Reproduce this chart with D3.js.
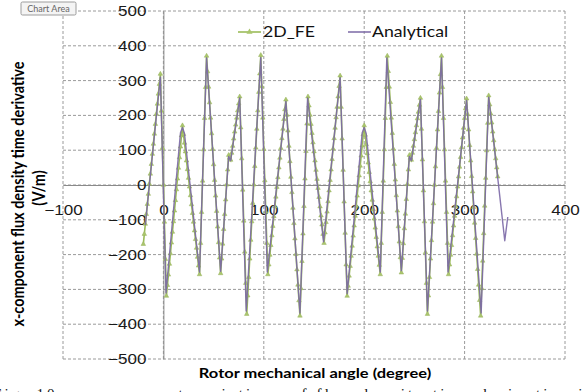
<!DOCTYPE html>
<html>
<head>
<meta charset="utf-8">
<style>
  body { margin: 0; background: #fff; overflow: hidden; }
  svg { display: block; font-family: Lato, "Open Sans", sans-serif; }
  .grid line { stroke: #9a9a9a; stroke-width: 1; stroke-dasharray: 3,2; }
  .axis path { stroke: #8a8a8a; }
  .axis text { fill: #1a1a1a; font-size: 14px; }
</style>
<title>x-component flux density time derivative</title>
</head>
<body>
<script src="https://cdn.jsdelivr.net/npm/d3@7"></script>
<script>

// ---- data ----
var xTicks = [-100, 0, 100, 200, 300, 400];
var yTicks = [-500, -400, -300, -200, -100, 0, 100, 200, 300, 400, 500];

// 2D_FE, one sample per degree starting at -20 deg
var feStart = -20;
var feValues = [
  -170, -141, -112, -84, -55, -26, 3, 32, 60, 89,
  118, 147, 175, 204, 233, 262, 290, 319, 213, 106,
  0, -106, -213, -319, -288, -258, -227, -197, -166, -135,
  -105, -74, -44, -13, 18, 49, 79, 110, 142, 171,
  146, 121, 96, 70, 45, 20, -5, -30, -56, -81,
  -106, -131, -156, -181, -207, -232, -257, -167, -78, 12,
  102, 192, 281, 371, 326, 282, 237, 193, 148, 103,
  59, 14, -31, -75, -120, -165, -209, -254, -212, -169,
  -127, -84, -42, 1, 44, 86, 78, 72, 92, 112,
  133, 153, 173, 193, 214, 234, 254, 165, 76, -14,
  -103, -192, -282, -371, -318, -265, -212, -158, -105, -52,
  1, 54, 107, 161, 214, 267, 320, 373, 283, 193,
  103, 13, -77, -167, -257, -229, -201, -173, -145, -118,
  -90, -62, -34, -6, 22, 50, 78, 106, 134, 161,
  189, 217, 245, 201, 156, 112, 68, 23, -21, -66,
  -110, -154, -199, -243, -287, -332, -376, -297, -219, -140,
  -61, 18, 97, 176, 254, 228, 201, 175, 149, 122,
  96, 70, 43, 17, -9, -35, -62, -88, -114, -141,
  -167, -137, -107, -77, -47, -16, 14, 44, 74, 104,
  134, 164, 194, 224, 254, 284, 314, 224, 133, 43,
  -48, -138, -229, -319, -290, -261, -233, -204, -175, -146,
  -117, -89, -60, -31, -2, 27, 55, 84, 113, 145,
  171, 144, 117, 91, 64, 37, 10, -16, -43, -70,
  -97, -123, -150, -177, -204, -230, -257, -167, -78, 12,
  102, 192, 281, 371, 327, 282, 238, 193, 149, 104,
  60, 15, -30, -74, -119, -163, -208, -252, -210, -168,
  -125, -83, -41, 2, 44, 86, 78, 72, 92, 112,
  131, 151, 171, 191, 210, 230, 250, 161, 73, -16,
  -105, -194, -282, -371, -318, -265, -212, -159, -106, -53,
  0, 53, 106, 159, 212, 265, 318, 371, 281, 192,
  102, 12, -78, -167, -257, -229, -201, -173, -145, -117,
  -89, -61, -33, -5, 24, 52, 80, 108, 136, 164,
  192, 220, 248, 203, 159, 114, 70, 25, -19, -64,
  -109, -153, -198, -242, -287, -331, -376, -297, -218, -139,
  -60, 20, 99, 178, 257, 231, 205, 179, 153, 128,
  102, 76, 50, 24
];

// Analytical, corner points of the curve
var anaAngles = [-18, -3, 2.6, 17, 19, 21, 36, 43, 57, 65, 67, 76, 82.5, 97, 103.5, 122, 136, 143.6,
                 159.5, 176, 183, 198, 200, 202, 216, 222.5, 237, 245, 247, 256, 263, 277, 283.5,
                 302, 316.5, 324, 340, 343];
var anaValues = [-115, 310, -310, 150, 165, 148, -250, 365, -248, 82, 70, 250, -362, 366, -250, 240, -368, 250,
                 -163, 308, -312, 150, 165, 148, -250, 365, -246, 82, 70, 246, -362, 365, -250,
                 243, -368, 252, -160, -92];

var feData = feValues.map((v, i) => ({angle: feStart + i, value: v}));
var anaData = anaAngles.map((a, i) => ({angle: a, value: anaValues[i]}));

// ---- layout ----
var width = 582, height = 392;
var plot = {left: 63, right: 565, top: 11, bottom: 359};
var stretch = 1.22;   // the picture is wider than it is tall, text included
var feColor = "#9bbb59", anaColor = "#7b68a6";

var x = d3.scaleLinear().domain([-100, 400]).range([plot.left, plot.right]);
var y = d3.scaleLinear().domain([-500, 500]).range([plot.bottom, plot.top]);

var svg = d3.select("body").append("svg")
    .attr("width", width)
    .attr("height", height);

// dashed grid, border included
var grid = svg.append("g").attr("class", "grid");
grid.selectAll(".h").data(yTicks).enter().append("line")
    .attr("x1", plot.left).attr("x2", plot.right)
    .attr("y1", d => y(d)).attr("y2", d => y(d));
grid.selectAll(".v").data(xTicks).enter().append("line")
    .attr("y1", plot.top).attr("y2", plot.bottom)
    .attr("x1", d => x(d)).attr("x2", d => x(d));

// axes cross at zero
var xAxis = svg.append("g")
    .attr("class", "axis")
    .attr("transform", `translate(0,${y(0)})`)
    .call(d3.axisBottom(x).tickValues(xTicks).tickSize(0).tickFormat(d3.format("d")));
xAxis.selectAll("text")
    .attr("y", null)
    .attr("dy", "0.71em")
    .attr("transform", `translate(0,20) scale(${stretch},1)`);

var yAxis = svg.append("g")
    .attr("class", "axis")
    .attr("transform", `translate(${x(0)},0)`)
    .call(d3.axisLeft(y).tickValues(yTicks).tickSize(0).tickFormat(d3.format("d")));
yAxis.selectAll("text")
    .attr("x", null)
    .attr("transform", `translate(-17,0) scale(${stretch},1)`);

// series
var line = d3.line().x(d => x(d.angle)).y(d => y(d.value));

svg.append("path")
    .datum(feData)
    .attr("d", line)
    .attr("fill", "none")
    .attr("stroke", feColor)
    .attr("stroke-width", 1.6);

var tri = d3.symbol().type(d3.symbolTriangle).size(9);
svg.append("g").selectAll("path")
    .data(feData)
    .enter().append("path")
    .attr("d", tri)
    .attr("transform", d => `translate(${x(d.angle)},${y(d.value)})`)
    .attr("fill", "#aac66c")
    .attr("stroke", "#98b25e")
    .attr("stroke-width", 0.5);

svg.append("path")
    .datum(anaData)
    .attr("d", line)
    .attr("fill", "none")
    .attr("stroke", anaColor)
    .attr("stroke-width", 1.4)
    .attr("stroke-opacity", 0.9)
    .attr("stroke-linejoin", "round");

// legend
var legend = svg.append("g").attr("font-size", "14.5px").attr("fill", "#111");
legend.append("line")
    .attr("x1", 238).attr("x2", 261).attr("y1", 32).attr("y2", 32)
    .attr("stroke", feColor).attr("stroke-width", 1.6);
legend.append("path")
    .attr("d", d3.symbol().type(d3.symbolTriangle).size(16))
    .attr("transform", "translate(249.5,32)")
    .attr("fill", "#aac66c");
legend.append("text")
    .attr("transform", `translate(263,37) scale(${stretch},1)`)
    .text("2D_FE");
legend.append("line")
    .attr("x1", 348).attr("x2", 371).attr("y1", 32).attr("y2", 32)
    .attr("stroke", anaColor).attr("stroke-width", 1.5);
legend.append("text")
    .attr("transform", `translate(372,37) scale(${stretch},1)`)
    .text("Analytical");

// axis titles
svg.append("text")
    .attr("transform", `translate(24,194) scale(${stretch},1) rotate(-90)`)
    .attr("text-anchor", "middle")
    .attr("font-weight", "bold")
    .attr("font-size", "14.5px")
    .text("x-component flux density time derivative");
svg.append("text")
    .attr("transform", `translate(45,188) scale(${stretch},1) rotate(-90)`)
    .attr("text-anchor", "middle")
    .attr("font-weight", "bold")
    .attr("font-size", "14.5px")
    .text("(V/m)");

svg.append("text")
    .attr("transform", `translate(315,378) scale(${stretch},1)`)
    .attr("text-anchor", "middle")
    .attr("font-weight", "bold")
    .attr("font-size", "13.5px")
    .text("Rotor mechanical angle (degree)");

// the "Chart Area" tooltip left over from the spreadsheet
var tip = svg.append("g").attr("transform", "translate(21,2)");
tip.append("rect")
    .attr("width", 55).attr("height", 13).attr("rx", 1.5)
    .attr("fill", "#f4f4f4").attr("stroke", "#9c9c9c");
tip.append("text")
    .attr("x", 27.5).attr("y", 10)
    .attr("text-anchor", "middle")
    .attr("font-size", "9px")
    .attr("fill", "#666")
    .text("Chart Area");

// figure caption, cut off by the bottom edge as in the source picture
svg.append("text")
    .attr("x", -7).attr("y", 399)
    .attr("font-family", "'Liberation Serif', serif")
    .attr("font-size", "15px")
    .attr("fill", "#111")
    .attr("textLength", 600)
    .attr("lengthAdjust", "spacing")
    .text("Fig. 10.   x-component variations of flux density time derivative in");

</script>
</body>
</html>
